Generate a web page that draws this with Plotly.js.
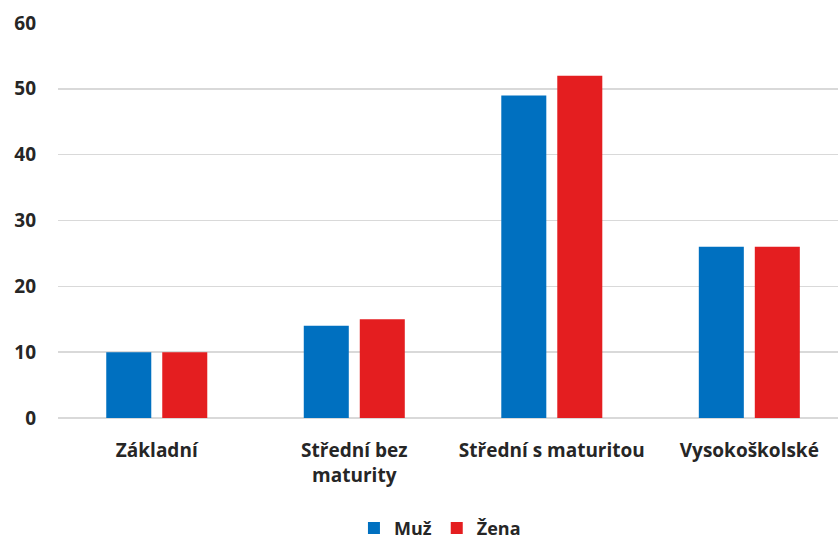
<!DOCTYPE html>
<html><head><meta charset="utf-8">
<script src="https://cdn.plot.ly/plotly-3.0.1.min.js"></script>
<style>html,body{margin:0;padding:0;background:#fff}#c{width:838px;height:539px}</style>
</head><body><div id="c"></div>
<script>
const categories = ["Základní", "Střední bez<br>maturity", "Střední s maturitou", "Vysokoškolské"];
const muz = [10, 14, 49, 26];
const zena = [10, 15, 52, 26];
const yTicks = [0, 10, 20, 30, 40, 50, 60];

const font = {family: "'Open Sans', Lato, sans-serif", size: 19, color: "#262626", weight: 700};
const legFont = {family: "'Open Sans', Lato, sans-serif", size: 18, color: "#262626", weight: 700};
const data = [
  {type: "bar", name: "Muž", x: [0,1,2,3], y: muz, marker: {color: "#0070C0"}},
  {type: "bar", name: "Žena", x: [0,1,2,3], y: zena, marker: {color: "#E41E20"}}
];
const layout = {
  width: 838, height: 539,
  margin: {l: 58, r: 0, t: 23, b: 121},
  paper_bgcolor: "#fff", plot_bgcolor: "#fff",
  barmode: "group", bargap: 0.433, bargroupgap: 0.196,
  font: font,
  xaxis: {range: [-0.5, 3.449], tickmode: "array", tickvals: [0,1,2,3], ticktext: categories,
          showgrid: false, zeroline: false, showline: false, ticks: "", ticklabelstandoff: 19,
          tickangle: 0, automargin: false, tickfont: font},
  yaxis: {range: [0, 60], tickmode: "array", tickvals: yTicks, ticktext: yTicks.map(String),
          showgrid: true, gridcolor: "#d9d9d9", gridwidth: 1.5, zeroline: true, zerolinecolor: "#d9d9d9",
          zerolinewidth: 1.5, showline: false, ticks: "", ticklabelstandoff: 21, automargin: false, tickfont: font},
  showlegend: true,
  legend: {orientation: "h", xref: "container", yref: "container", x: 0.525, xanchor: "center",
           y: 0.02, yanchor: "middle", font: legFont, itemwidth: 30, traceorder: "normal"},
};
Plotly.newPlot("c", data, layout, {displayModeBar: false, staticPlot: true});
</script></body></html>
